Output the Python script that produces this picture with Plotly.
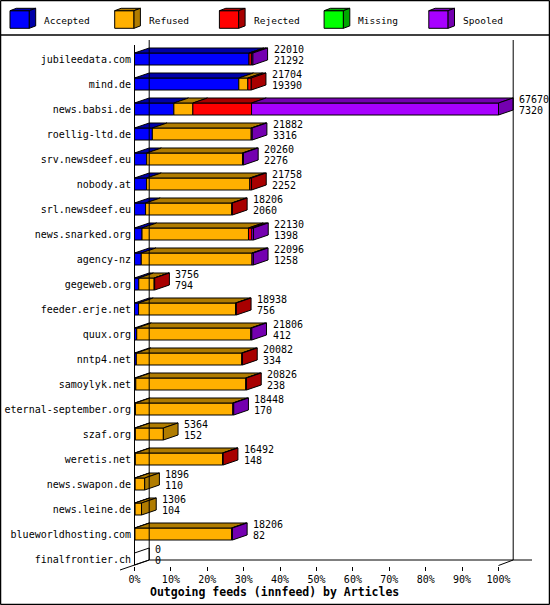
import plotly.graph_objects as go

# --- data ---
hosts = ["jubileedata.com", "mind.de", "news.babsi.de", "roellig-ltd.de", "srv.newsdeef.eu",
         "nobody.at", "srl.newsdeef.eu", "news.snarked.org", "agency-nz", "gegeweb.org",
         "feeder.erje.net", "quux.org", "nntp4.net", "samoylyk.net", "eternal-september.org",
         "szaf.org", "weretis.net", "news.swapon.de", "news.leine.de", "blueworldhosting.com",
         "finalfrontier.ch"]

total = [22010, 21704, 67670, 21882, 20260, 21758, 18206, 22130, 22096, 3756,
         18938, 21806, 20082, 20826, 18448, 5364, 16492, 1896, 1306, 18206, 0]
accepted = [21292, 19390, 7320, 3316, 2276, 2252, 2060, 1398, 1258, 794,
            756, 412, 334, 238, 170, 152, 148, 110, 104, 82, 0]
refused = [0, 1680, 3530, 18380, 17800, 19190, 16016, 19792, 20588, 2860,
           18032, 21194, 19598, 20438, 18108, 5212, 16224, 1786, 1202, 17974, 0]
rejected = [440, 634, 10910, 0, 0, 316, 130, 630, 0, 102,
            150, 0, 150, 150, 0, 0, 120, 0, 0, 0, 0]
missing = [0] * 21
spooled = [278, 0, 45910, 186, 184, 0, 0, 310, 250, 0,
           0, 200, 0, 0, 170, 0, 0, 0, 0, 150, 0]

series = ["Accepted", "Refused", "Rejected", "Missing", "Spooled"]
values = [accepted, refused, rejected, missing, spooled]
front_colors = ["#0000FF", "#FFB000", "#FF0000", "#00FF00", "#A800FF"]
shade_colors = ["#0000A8", "#B07C00", "#A80000", "#00A800", "#7400B0"]

W, HGT = 550, 605
ML, MR, MT, MB = 134, 16, 36, 39
PX_PER_PCT = 3.64
X0_PX = 134.5
ROW0_PX, ROW_PX = 59, 25

DX = 14.7 / PX_PER_PCT   # 3d depth, in % units
DY = 5 / ROW_PX          # 3d depth, in rows
H = 6 / ROW_PX           # half bar height, in rows

scale = max(total)
n = len(hosts)
mono = "DejaVu Sans Mono"


def px(x, y):
    # pixel -> paper coordinates (for frame lines and the legend)
    return (x - ML) / (W - ML - MR), (HGT - MB - y) / (HGT - MT - MB)


fig = go.Figure()

for s, vals in enumerate(values):
    fx, fy, tx, ty, sx, sy = [], [], [], [], [], []
    for i in range(n):
        if vals[i] <= 0:
            continue
        start = sum(values[k][i] for k in range(s)) / scale * 100
        end = start + vals[i] / scale * 100
        fx += [start, end, end, start, start, None]
        fy += [i - H, i - H, i + H, i + H, i - H, None]
        tx += [start, end, end + DX, start + DX, start, None]
        ty += [i - H, i - H, i - H - DY, i - H - DY, i - H, None]
        last = max(k for k in range(len(values)) if values[k][i] > 0)
        if last == s:
            sx += [end, end + DX, end + DX, end, end, None]
            sy += [i - H, i - H - DY, i + H - DY, i + H, i - H, None]
    for xs, ys, col in ((fx, fy, front_colors[s]), (tx, ty, shade_colors[s]), (sx, sy, shade_colors[s])):
        if xs:
            fig.add_trace(go.Scatter(x=xs, y=ys, mode="lines", fill="toself", fillcolor=col,
                                     line=dict(color="black", width=1), hoverinfo="skip",
                                     showlegend=False))

# empty bars: just the outline of the end face
zx, zy = [], []
for i in range(n):
    if total[i] == 0:
        zx += [0, DX, DX, 0, 0, None]
        zy += [i - H, i - H - DY, i + H - DY, i + H, i - H, None]
if zx:
    fig.add_trace(go.Scatter(x=zx, y=zy, mode="lines", fill="toself", fillcolor="white",
                             line=dict(color="black", width=1), hoverinfo="skip", showlegend=False))

# value labels: total on top, accepted below
for i in range(n):
    end = total[i] / scale * 100
    lx = end + DX + 4 / PX_PER_PCT
    fig.add_annotation(x=lx, y=i - 9.5 / ROW_PX, text=str(total[i]), showarrow=False,
                       xanchor="left", yanchor="middle", font=dict(family=mono, size=10, color="black"))
    fig.add_annotation(x=lx, y=i + 1.5 / ROW_PX, text=str(accepted[i]), showarrow=False,
                       xanchor="left", yanchor="middle", font=dict(family=mono, size=10, color="black"))

shapes = []


def line(x0, y0, x1, y1, w=1):
    a, b = px(x0, y0)
    c, d = px(x1, y1)
    shapes.append(dict(type="line", xref="paper", yref="paper", x0=a, y0=b, x1=c, y1=d,
                       line=dict(color="black", width=w)))


back_l = X0_PX + 14.7
back_r = X0_PX + 100 * PX_PER_PCT + 14.7
front_r = X0_PX + 100 * PX_PER_PCT
line(X0_PX, 45, X0_PX, 565)          # front left edge
line(back_l, 40, back_l, 560)        # back wall, 0%
line(back_r, 40, back_r, 560)        # back wall, 100%
line(back_l, 560, 532, 560)          # floor back edge
line(120, 570, back_l, 560)          # floor left diagonal
line(front_r, 565.5, back_r, 560)    # floor right diagonal

# frame and legend separator
line(0.5, 0.5, 549.5, 0.5, 1.5)
line(0.5, 604.5, 549.5, 604.5, 1.5)
line(0.5, 0.5, 0.5, 604.5, 1.5)
line(549.5, 0.5, 549.5, 604.5, 1.5)
line(0, 35, 550, 35, 1.5)

# legend cubes
for k, name in enumerate(series):
    x0 = 10 + k * 104.7
    fw, ftop, fbot, ddx, ddy = 19.3, 10.7, 28.3, 6.4, 2.4
    a, b = px(x0, ftop)
    c, d = px(x0 + fw, fbot)
    shapes.append(dict(type="rect", xref="paper", yref="paper", x0=a, y0=b, x1=c, y1=d,
                       fillcolor=front_colors[k], line=dict(color="black", width=1)))
    pts_top = [px(x0, ftop), px(x0 + ddx, ftop - ddy), px(x0 + fw + ddx, ftop - ddy), px(x0 + fw, ftop)]
    pts_side = [px(x0 + fw, ftop), px(x0 + fw + ddx, ftop - ddy), px(x0 + fw + ddx, fbot - ddy), px(x0 + fw, fbot)]
    for pts in (pts_top, pts_side):
        path = "M " + " L ".join(f"{p[0]:.5f},{p[1]:.5f}" for p in pts) + " Z"
        shapes.append(dict(type="path", xref="paper", yref="paper", path=path,
                           fillcolor=shade_colors[k], line=dict(color="black", width=1)))
    tx_, ty_ = px(x0 + 32.3, 20)
    fig.add_annotation(xref="paper", yref="paper", x=tx_, y=ty_, text=name, showarrow=False,
                       xanchor="left", yanchor="middle", font=dict(family=mono, size=9.5, color="black"))

ttx, tty = px(274, 592)
fig.add_annotation(xref="paper", yref="paper", x=ttx, y=tty,
                   text="<b>Outgoing feeds (innfeed) by Articles</b>", showarrow=False,
                   xanchor="center", yanchor="middle", font=dict(family=mono, size=11.5, color="black"))

x_lo = (ML - X0_PX) / PX_PER_PCT
x_hi = (W - MR - X0_PX) / PX_PER_PCT
y_top = (MT - ROW0_PX) / ROW_PX
y_bot = (HGT - MB - ROW0_PX) / ROW_PX

fig.update_layout(
    width=W, height=HGT,
    margin=dict(l=ML, r=MR, t=MT, b=MB, pad=0, autoexpand=False),
    paper_bgcolor="white", plot_bgcolor="white",
    showlegend=False,
    shapes=shapes,
    xaxis=dict(range=[x_lo, x_hi], tickvals=list(range(0, 101, 10)),
               ticktext=[f"{v}%" for v in range(0, 101, 10)], automargin=False,
               ticks="outside", ticklen=4, tickcolor="black", showgrid=False, zeroline=False,
               showline=False, tickfont=dict(family=mono, size=10, color="black")),
    yaxis=dict(range=[y_bot, y_top], tickvals=list(range(n)), ticktext=hosts, automargin=False,
               ticks="", showgrid=False, zeroline=False, showline=False,
               ticklabelstandoff=2, tickfont=dict(family=mono, size=10, color="black")),
)

fig.write_html("out.html", config={"displayModeBar": False},
               post_script="document.body.style.margin='0';document.body.style.overflow='hidden';")
